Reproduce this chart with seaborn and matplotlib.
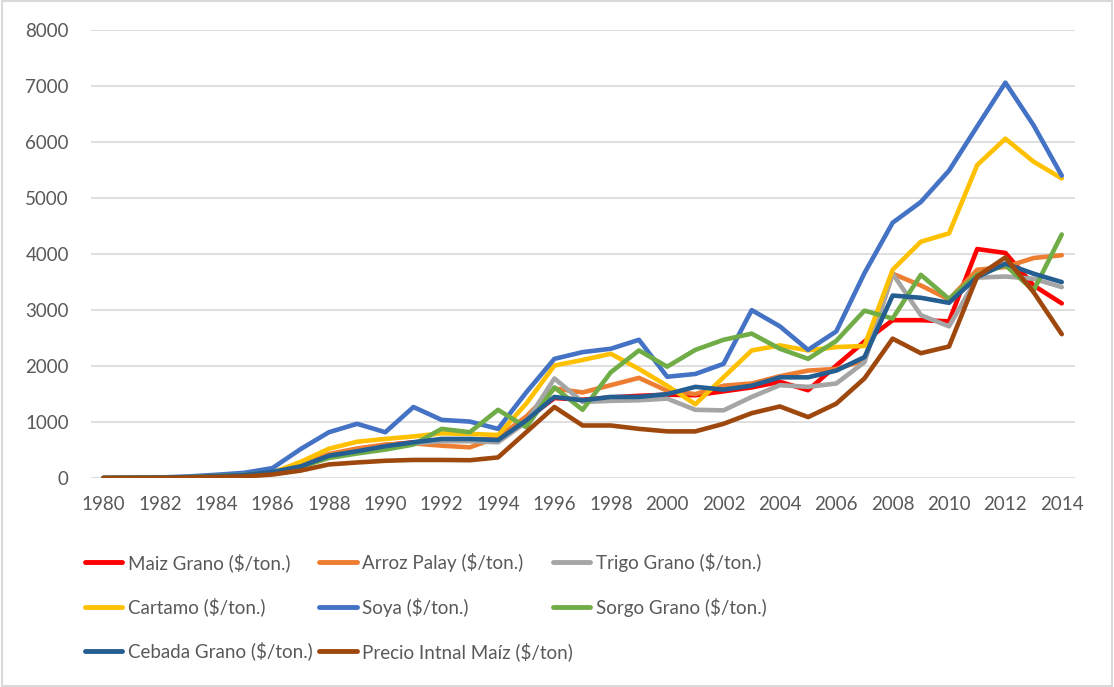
# ==========================================================
# Precios de granos en Mexico 1980-2014 ($/ton.)
# ==========================================================

import pandas as pd
import seaborn as sns
import matplotlib
matplotlib.use("Agg")
import matplotlib.pyplot as plt
from matplotlib.lines import Line2D
from matplotlib.patches import Rectangle


# ==========================================================
# Data
# ==========================================================

years = list(range(1980, 2015))

maiz = [3, 5, 7, 15, 30, 45, 90, 220, 400, 500, 590, 640, 680, 680, 690, 1050,
        1430, 1400, 1440, 1470, 1490, 1480, 1550, 1620, 1720, 1570, 2010, 2440,
        2820, 2820, 2800, 4090, 4020, 3440, 3120]

arroz = [3, 5, 7, 15, 30, 45, 95, 240, 430, 530, 600, 620, 580, 550, 730, 1100,
         1600, 1530, 1660, 1790, 1560, 1500, 1650, 1690, 1820, 1920, 1950, 2100,
         3650, 3440, 3190, 3720, 3770, 3930, 3980]

trigo = [3, 5, 7, 15, 30, 45, 90, 210, 380, 470, 560, 620, 660, 660, 640, 1000,
         1780, 1360, 1380, 1390, 1420, 1220, 1210, 1450, 1660, 1630, 1690, 2070,
         3650, 2910, 2710, 3580, 3600, 3560, 3410]

cartamo = [3, 5, 7, 15, 30, 45, 100, 290, 525, 650, 700, 745, 800, 790, 770, 1330,
           2010, 2110, 2220, 1950, 1650, 1320, 1800, 2280, 2370, 2280, 2340, 2360,
           3720, 4220, 4370, 5590, 6060, 5650, 5350]

soya = [5, 8, 12, 30, 60, 95, 180, 520, 820, 970, 820, 1270, 1040, 1010, 880, 1530,
        2130, 2250, 2310, 2470, 1810, 1860, 2040, 3000, 2710, 2290, 2620, 3660,
        4560, 4930, 5490, 6280, 7060, 6300, 5400]

sorgo = [3, 5, 8, 20, 40, 60, 100, 200, 360, 440, 510, 600, 880, 820, 1220, 910,
         1620, 1220, 1890, 2280, 1990, 2290, 2470, 2580, 2310, 2130, 2450, 2990,
         2850, 3630, 3200, 3630, 3800, 3350, 4350]

cebada = [3, 5, 8, 18, 35, 55, 110, 210, 400, 480, 570, 640, 700, 700, 680, 1030,
          1450, 1390, 1450, 1450, 1500, 1630, 1580, 1650, 1800, 1800, 1920, 2160,
          3260, 3220, 3130, 3590, 3830, 3650, 3500]

precio_intnal = [0, 2, 4, 10, 20, 30, 65, 135, 245, 280, 310, 325, 325, 320, 370, 820,
                 1270, 940, 940, 880, 835, 835, 970, 1160, 1280, 1090, 1330, 1780,
                 2490, 2230, 2350, 3600, 3940, 3320, 2570]

series_names = [
    "Maiz Grano ($/ton.)",
    "Arroz Palay ($/ton.)",
    "Trigo Grano ($/ton.)",
    "Cartamo ($/ton.)",
    "Soya ($/ton.)",
    "Sorgo Grano ($/ton.)",
    "Cebada Grano ($/ton.)",
    "Precio Intnal Maíz ($/ton)",
]

series_values = [maiz, arroz, trigo, cartamo, soya, sorgo, cebada, precio_intnal]

colors = ["#FF0000", "#ED7D31", "#A5A5A5", "#FFC000",
          "#4472C4", "#70AD47", "#255E91", "#9E480E"]

x_ticks = list(range(1980, 2015, 2))
y_ticks = list(range(0, 8001, 1000))


# ==========================================================
# Long format table for seaborn
# ==========================================================

wide = pd.DataFrame({"year": years})
for name, values in zip(series_names, series_values):
    wide[name] = values

df = wide.melt(id_vars="year", var_name="serie", value_name="valor")


# ==========================================================
# Plot
# ==========================================================

sns.set_style("white")
plt.rcParams["font.family"] = ["Lato", "DejaVu Sans"]

text_color = "#595959"
grid_color = "#D9D9D9"

fig = plt.figure(figsize=(11.14, 6.87), dpi=100)
ax = fig.add_axes([0.0817, 0.304, 0.8833, 0.6523])

sns.lineplot(
    data=df,
    x="year",
    y="valor",
    hue="serie",
    hue_order=series_names,
    palette=colors,
    linewidth=3.3,
    legend=False,
    ax=ax
)

ax.set_xlim(1979.56, 2014.47)
ax.set_ylim(0, 8000)
ax.set_xticks(x_ticks)
ax.set_yticks(y_ticks)
ax.set_xlabel("")
ax.set_ylabel("")

ax.grid(axis="y", color=grid_color, linewidth=1.2)
ax.grid(axis="x", visible=False)
ax.set_axisbelow(True)
sns.despine(ax=ax, left=True, bottom=True)

ax.tick_params(axis="both", length=0, labelsize=13.5, colors=text_color)
ax.tick_params(axis="y", pad=16)
ax.tick_params(axis="x", pad=13)


# ==========================================================
# Legend (3 columns, filled row by row like the original)
# ==========================================================

legend_x = [0.0763, 0.2864, 0.4964]
columns = [[0, 3, 6], [1, 4, 7], [2, 5]]

for col_x, idx in zip(legend_x, columns):
    handles = [Line2D([0], [0], color=colors[i], linewidth=3.5,
                      solid_capstyle="round") for i in idx]
    labels = [series_names[i] for i in idx]
    fig.legend(
        handles,
        labels,
        loc="upper left",
        bbox_to_anchor=(col_x, 0.195),
        frameon=False,
        fontsize=13.5,
        labelcolor=text_color,
        handlelength=2.0,
        handletextpad=0.3,
        labelspacing=1.36,
        borderpad=0,
        borderaxespad=0
    )

# light border around the whole chart
fig.patches.append(Rectangle((0.002, 0.002), 0.996, 0.996,
                             transform=fig.transFigure, fill=False,
                             edgecolor=grid_color, linewidth=1.5))

fig.savefig("out.png", dpi=100)
